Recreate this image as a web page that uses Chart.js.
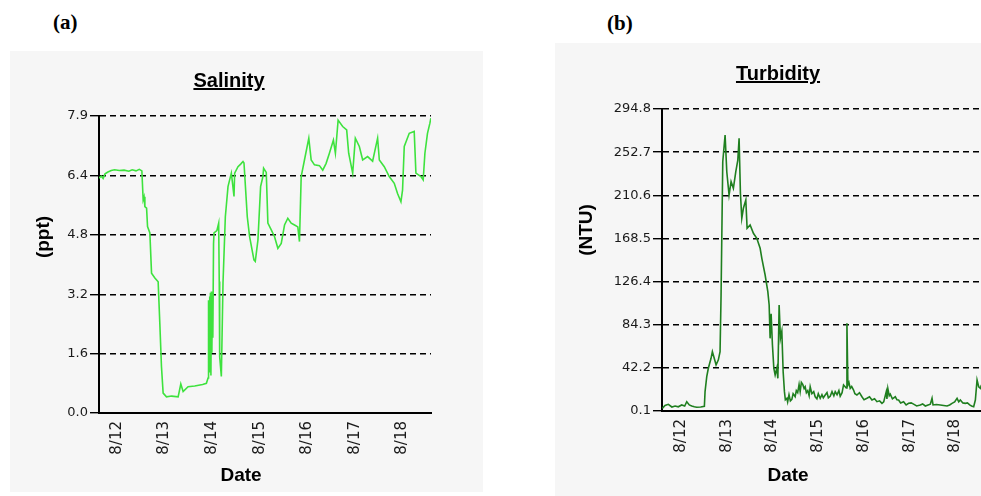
<!DOCTYPE html>
<html>
<head>
<meta charset="utf-8">
<script src="https://cdn.jsdelivr.net/npm/chart.js@4.4.1/dist/chart.umd.min.js"></script>
<style>
  html, body { margin:0; padding:0; }
  body { width:981px; height:496px; overflow:hidden; background:#ffffff; position:relative; font-family:"Liberation Sans", Arial, sans-serif; }
  .panel { position:absolute; background:#f6f6f6; overflow:hidden; }
  .lbl { position:absolute; color:#000; white-space:nowrap; }
  .fig { font-family:"Liberation Serif", "Times New Roman", serif; font-weight:bold; font-size:21px; line-height:21px; }
  .title { font-weight:bold; font-size:20px; line-height:20px; text-decoration:underline; text-align:center; width:200px; }
  .axt { font-weight:bold; font-size:19px; line-height:20px; text-align:center; width:100px; }
  .rot { transform:rotate(-90deg); }
</style>
</head>
<body>
<div class="panel" style="left:10px;top:51px;width:473px;height:441px;">
  <canvas id="sal" width="473" height="441"></canvas>
</div>
<div class="panel" style="left:555px;top:43px;width:426px;height:453px;">
  <canvas id="turb" width="440" height="452"></canvas>
</div>

<div class="lbl fig" style="left:53px;top:12px;">(a)</div>
<div class="lbl fig" style="left:607px;top:13px;">(b)</div>
<div class="lbl title" style="left:129px;top:70px;">Salinity</div>
<div class="lbl title" style="left:678px;top:63px;">Turbidity</div>
<div class="lbl axt rot" style="left:-7px;top:227px;">(ppt)</div>
<div class="lbl axt rot" style="left:536px;top:220px;">(NTU)</div>
<div class="lbl axt" style="left:191px;top:465px;">Date</div>
<div class="lbl axt" style="left:738px;top:465px;">Date</div>

<script>
// ---- categories / tick labels ----
const dateTickValues = [0, 1, 2, 3, 4, 5, 6];           // days after 8/12 00:00
const dateTickLabels = ['8/12', '8/13', '8/14', '8/15', '8/16', '8/17', '8/18'];

const salTickValues = [0, 1.58, 3.16, 4.74, 6.32, 7.9];
const salTickLabels = ['0.0', '1.6', '3.2', '4.8', '6.4', '7.9'];

const turbTickValues = [0.1, 42.2, 84.3, 126.4, 168.5, 210.6, 252.7, 294.8];
const turbTickLabels = ['0.1', '42.2', '84.3', '126.4', '168.5', '210.6', '252.7', '294.8'];

// ---- Salinity series (ppt), time in days after 8/12 00:00 ----
const salDays = [
  -0.377, -0.33, -0.29, -0.25, -0.19, -0.12, -0.05, 0.05, 0.15, 0.25, 0.32, 0.40, 0.47, 0.524,
  0.551, 0.57, 0.587, 0.623, 0.643, 0.692, 0.727, 0.797, 0.866, 0.901, 0.936, 0.971,
  1.041, 1.15, 1.286, 1.342, 1.391, 1.495, 1.635, 1.80, 1.880, 1.915,
  1.925, 1.935, 1.945, 1.955, 1.965, 1.975, 1.985, 1.995, 2.005, 2.015, 2.030, 2.040,
  2.10, 2.138, 2.150, 2.159, 2.194, 2.210, 2.229, 2.278, 2.334, 2.404, 2.430, 2.460,
  2.474, 2.544, 2.60, 2.649, 2.670, 2.739, 2.788, 2.879, 2.907, 2.963, 3.019, 3.068,
  3.082, 3.138, 3.172, 3.243, 3.312, 3.382, 3.453, 3.522, 3.591, 3.662, 3.732, 3.801,
  3.836, 3.872, 3.941, 4.032, 4.082, 4.151, 4.256, 4.325, 4.396, 4.465, 4.549, 4.591,
  4.648, 4.744, 4.828, 4.870, 4.954, 5.010, 5.094, 5.164, 5.268, 5.373, 5.478, 5.514,
  5.618, 5.723, 5.828, 5.897, 5.968, 6.002, 6.038, 6.143, 6.247, 6.283, 6.388, 6.436,
  6.472, 6.526, 6.577, 6.597
];
const salValues = [
  6.25, 6.30, 6.24, 6.36, 6.41, 6.45, 6.47, 6.45, 6.46, 6.43, 6.47, 6.44, 6.48, 6.44,
  5.67, 5.75, 5.49, 5.45, 4.96, 4.79, 3.72, 3.59, 3.49, 2.39, 1.23, 0.53,
  0.43, 0.45, 0.43, 0.77, 0.57, 0.70, 0.72, 0.76, 0.79, 0.93,
  3.0, 1.1, 3.1, 1.3, 3.2, 1.0, 3.23, 1.6, 3.1, 2.0, 4.5, 4.79,
  4.85, 5.05, 3.5, 1.5, 0.97, 2.1, 3.46, 5.22, 6.02, 6.38, 6.1, 5.76,
  6.38, 6.55, 6.62, 6.69, 6.65, 5.22, 4.69, 4.07, 4.03, 4.60, 6.02, 6.29,
  6.51, 6.40, 5.05, 4.87, 4.69, 4.38, 4.51, 5.0, 5.18, 5.05, 5.0, 4.95,
  4.56, 6.29, 6.73, 7.31, 6.73, 6.60, 6.58, 6.46, 6.64, 6.91, 7.26, 6.91,
  7.79, 7.62, 7.53, 6.91, 6.38, 7.31, 7.09, 6.73, 6.82, 6.70, 7.31, 6.73,
  6.55, 6.29, 6.11, 5.84, 5.62, 5.93, 7.09, 7.44, 7.49, 6.38, 6.29, 6.20,
  6.91, 7.44, 7.71, 7.84
];

// ---- Turbidity series (NTU) ----
const turbDays = [
  -0.409, -0.35, -0.278, -0.20, -0.131, -0.06, 0.015, 0.08, 0.125, 0.18, 0.234, 0.29, 0.344, 0.43,
  0.510, 0.525, 0.562, 0.597, 0.656, 0.685, 0.729, 0.766, 0.816, 0.853, 0.875, 0.912, 0.963,
  1.000, 1.050, 1.094, 1.144, 1.197, 1.241, 1.269, 1.298, 1.328, 1.363, 1.416, 1.444, 1.510,
  1.582, 1.656, 1.729, 1.766, 1.838, 1.897, 1.926, 1.947, 1.969, 1.998, 2.028, 2.057, 2.094,
  2.116, 2.144, 2.173, 2.203, 2.232, 2.260, 2.28, 2.313, 2.33, 2.36, 2.39, 2.422, 2.45, 2.494,
  2.52, 2.55, 2.58, 2.604, 2.63, 2.66, 2.69, 2.713, 2.74, 2.77, 2.80, 2.823, 2.86, 2.90, 2.932,
  2.97, 3.00, 3.042, 3.08, 3.11, 3.151, 3.19, 3.22, 3.260, 3.30, 3.34, 3.370, 3.41, 3.45, 3.479,
  3.52, 3.552, 3.611, 3.626, 3.647, 3.67, 3.698, 3.73, 3.771, 3.80, 3.844, 3.90, 3.954, 4.00,
  4.063, 4.12, 4.173, 4.23, 4.282, 4.34, 4.392, 4.43, 4.486, 4.50, 4.52, 4.55, 4.573, 4.62,
  4.683, 4.72, 4.755, 4.80, 4.864, 4.92, 4.974, 5.03, 5.083, 5.15, 5.230, 5.28, 5.339, 5.40,
  5.449, 5.486, 5.508, 5.58, 5.667, 5.74, 5.814, 5.87, 5.923, 5.98, 6.033, 6.07, 6.105, 6.16,
  6.214, 6.26, 6.309, 6.35, 6.396, 6.433, 6.470, 6.506, 6.543, 6.565
];
const turbValues = [
  2.7, 5.5, 6.6, 4.0, 5.0, 4.2, 6.0, 5.0, 9.2, 6.0, 5.0, 4.2, 3.8, 4.0,
  4.6, 19, 33.6, 41.8, 51.5, 58, 51, 45, 50, 58, 113, 243.4, 269.4,
  233.6, 210.9, 223.9, 217.4, 233.6, 245, 266.2, 212.5, 188.1, 197.9, 206, 178.4, 181.6,
  173.5, 168.6, 158.9, 149.1, 132.8, 116.5, 103.5, 71, 95, 64.5, 41.8, 35.2, 42,
  32, 103.5, 71, 78, 38.4, 19, 11, 12.5, 9, 16, 10, 11.5, 17, 14,
  20, 18, 26, 19, 28, 26, 22, 23.8, 18, 20, 15, 23.8, 17, 19, 14,
  12, 17, 12.5, 16, 13, 15.7, 18, 13, 14.5, 19, 15, 19, 16, 20, 14.5,
  18, 25.5, 22.5, 85.7, 25.5, 28, 22.2, 24, 20.5, 17, 15.7, 18, 14.0, 11,
  12.5, 14, 10.8, 12, 9.2, 10, 7.6, 9, 19, 12, 22, 15, 16.5, 12,
  14, 11, 10.8, 8, 9.2, 6, 7.6, 8, 6.8, 5, 6.0, 7, 5.0, 6,
  6.8, 12.5, 6.0, 6.5, 6.0, 5.5, 5.0, 6, 7.6, 9, 12.5, 9, 10.8, 8,
  7.6, 8, 6.0, 5, 4.3, 10.8, 30.4, 23.8, 22.2, 25.5
];

const tickFontY = { family: '"DejaVu Sans", sans-serif', size: 13 };
const tickFontX = { family: '"DejaVu Sans", sans-serif', size: 15 };
const tickColor = '#1a1a1a';

function makeChart(id, days, values, color, yMin, yMax, yTickVals, yTickLabels, xMin, xMax, pad, yWidth, xHeight) {
  return new Chart(document.getElementById(id), {
    type: 'line',
    data: {
      datasets: [{
        data: days.map((d, i) => ({ x: d, y: values[i] })),
        borderColor: color,
        borderWidth: 1.6,
        pointRadius: 0,
        tension: 0,
        fill: false
      }]
    },
    options: {
      responsive: false,
      animation: false,
      layout: { padding: pad },
      plugins: { legend: { display: false }, tooltip: { enabled: false }, title: { display: false } },
      scales: {
        x: {
          type: 'linear',
          min: xMin, max: xMax,
          afterBuildTicks: s => { s.ticks = dateTickValues.map(v => ({ value: v })); },
          afterFit: s => { s.height = xHeight; },
          ticks: {
            autoSkip: false, minRotation: 90, maxRotation: 90, padding: 8,
            font: tickFontX, color: tickColor,
            callback: (v, i) => dateTickLabels[i]
          },
          grid: { display: false, drawTicks: false },
          border: { display: true, color: '#000', width: 2 }
        },
        y: {
          min: yMin, max: yMax,
          afterBuildTicks: s => { s.ticks = yTickVals.map(v => ({ value: v })); },
          afterFit: s => { s.width = yWidth; },
          ticks: {
            autoSkip: false, padding: 2, font: tickFontY, color: tickColor,
            callback: (v, i) => yTickLabels[i]
          },
          grid: { display: true, color: '#000', lineWidth: 1.4, drawTicks: true, tickLength: 9, tickColor: '#000', tickBorderDash: [] },
          border: { display: true, color: '#000', width: 2, dash: [6, 4] }
        }
      }
    }
  });
}

makeChart('sal', salDays, salValues, '#3ee23e', 0, 7.9, salTickValues, salTickLabels,
  -0.377, 6.6, { top: 65, left: 0, right: 52, bottom: 0 }, 89, 79);

makeChart('turb', turbDays, turbValues, '#1f7f1f', 0.1, 294.8, turbTickValues, turbTickLabels,
  -0.416, 6.6, { top: 66, left: 0, right: 12, bottom: 0 }, 107, 84);
</script>
</body>
</html>
